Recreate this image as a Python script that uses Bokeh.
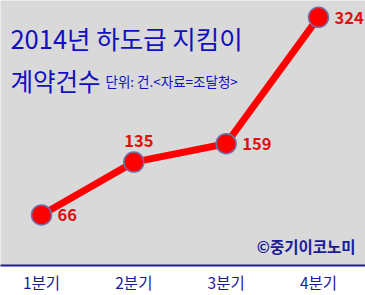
from bokeh.plotting import figure
from bokeh.models import Range1d, Label, ColumnDataSource
from bokeh.core.properties import value
from bokeh.embed import file_html
from bokeh.resources import INLINE

categories = ["1분기", "2분기", "3분기", "4분기"]
counts = [66, 135, 159, 324]
title1 = "2014년 하도급 지킴이"
title2 = "계약건수"
unit_text = "단위: 건.<자료=조달청>"
credit = "©중기이코노미"

xs = [1, 2, 3, 4]
label_dx = [16, 5, 16, 16]
label_dy = [0, -22, 0, 0]
label_align = ["left", "center", "left", "left"]

FONT = "Noto Sans CJK KR"

p = figure(width=365, height=295, output_backend="svg", toolbar_location=None,
           x_range=Range1d(0.556, 4.509), y_range=Range1d(0, 346),
           min_border_left=0, min_border_right=0, min_border_top=0,
           min_border_bottom=27)
p.background_fill_color = "#d9d9d9"
p.border_fill_color = "white"
p.outline_line_color = None
p.xgrid.visible = False
p.ygrid.visible = False
p.yaxis.visible = False

ax = p.xaxis[0]
ax.ticker = xs
ax.major_label_overrides = {x: c for x, c in zip(xs, categories)}
ax.axis_line_color = "#1a1aa0"
ax.axis_line_width = 2
ax.major_tick_line_color = None
ax.minor_tick_line_color = None
ax.major_tick_out = 0
ax.major_tick_in = 0
ax.major_label_standoff = 5
ax.major_label_text_font = FONT
ax.major_label_text_font_size = "15.5px"
ax.major_label_text_color = "#1a1a9a"

src = ColumnDataSource(dict(x=xs, y=counts, t=[str(c) for c in counts],
                            dx=label_dx, dy=label_dy, al=label_align))

p.line("x", "y", source=src, line_color="#ff0000", line_width=7)
p.scatter("x", "y", source=src, size=20, fill_color="#ff0000",
          line_color="#7070a8", line_width=1.5)
p.text("x", "y", text="t", source=src, x_offset="dx", y_offset="dy",
       text_align="al", text_baseline="middle",
       text_font=value(FONT), text_font_size="16.5px", text_font_style="bold",
       text_color="#e01010")

p.add_layout(Label(x=0.664, y=298.2, text=title1, text_font=FONT,
                   text_font_size="25.5px", text_color="#1010c0",
                   text_baseline="alphabetic"))
p.add_layout(Label(x=0.664, y=241.4, text=title2, text_font=FONT,
                   text_font_size="24.5px", text_color="#1010c0",
                   text_baseline="alphabetic"))
p.add_layout(Label(x=1.693, y=241.4, text=unit_text, text_font=FONT,
                   text_font_size="13.5px", text_color="#1010c0",
                   text_baseline="alphabetic"))
p.add_layout(Label(x=4.401, y=25.8, text=credit, text_font=FONT,
                   text_font_size="15.5px", text_font_style="bold",
                   text_color="#1a1a9a", text_align="right",
                   text_baseline="alphabetic"))

open("out.html", "w").write(file_html(p, INLINE))
